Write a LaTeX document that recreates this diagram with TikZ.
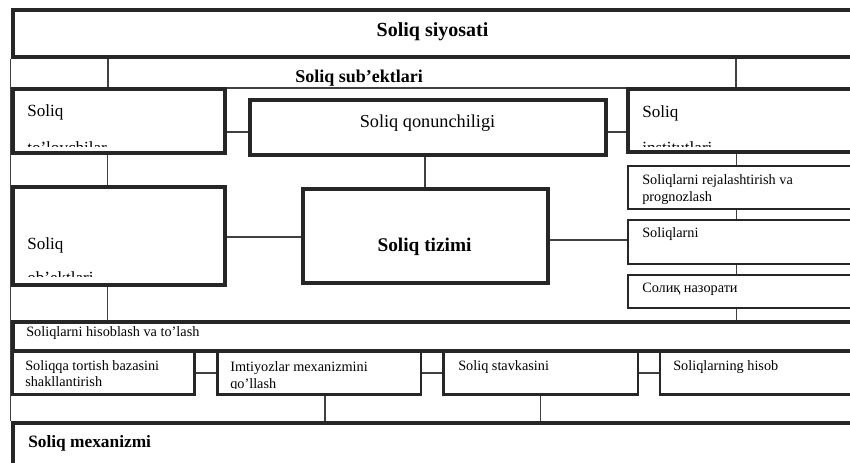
\documentclass[tikz,border=0pt]{standalone}
\usepackage{fontspec}
\setmainfont{Liberation Serif}
\usetikzlibrary{fit,calc,backgrounds}

\begin{document}
\begin{tikzpicture}[x=0.75pt,y=-0.75pt,
		thickbox/.style={draw=black!85,line width=3pt,fill=white,inner sep=0pt},
		midbox/.style={draw=black!85,line width=2pt,fill=white,inner sep=0pt},
		thinbox/.style={draw=black!75,line width=0.8pt,inner sep=0pt},
		link/.style={draw=black!75,line width=0.8pt},
		lbl/.style={inner sep=0pt,anchor=base west,align=left,font=\fontsize{10.7}{12.75}\selectfont},
		bigl/.style={inner sep=0pt,anchor=base west,font=\fontsize{12.8}{15}\selectfont},
		head/.style={inner sep=0pt,font=\bfseries\fontsize{13.5}{16}\selectfont}]
		\useasboundingbox (0,0) rectangle (850,463);
		\clip (0,0) rectangle (850,463);

		% boxes
		\node[thinbox,fit={(108,57.5)(736,88)}] (subj) {};
		\node[thickbox,fit={(12.5,10.5)(880,57.5)}] (pol) {};
		\node[thickbox,fit={(12.5,89.5)(224.5,153)}] (tolov) {};
		\node[thickbox,fit={(249.5,100.5)(605.5,155)}] (qonun) {};
		\node[thickbox,fit={(627.5,89.5)(880,152.5)}] (inst) {};
		\node[thickbox,fit={(12.5,187.5)(224.5,285.5)}] (obyekt) {};
		\node[thickbox,fit={(302.5,189.5)(547.5,283.5)}] (tizim) {};
		\node[midbox,fit={(628,166)(880,209)}] (plan) {};
		\node[midbox,fit={(628,220)(880,264)}] (soliqlar) {};
		\node[midbox,fit={(628,275)(880,308)}] (nazorat) {};
		\node[midbox,fit={(12.5,351)(194.5,394.5)}] (baza) {};
		\node[midbox,fit={(217.5,351)(421,394.5)}] (imtiyoz) {};
		\node[midbox,fit={(443.5,351)(638,394.5)}] (stavka) {};
		\node[midbox,fit={(660,351)(880,394.5)}] (hisobi) {};
		\node[thickbox,fit={(12.5,322)(880,351)}] (hisob) {};
		\node[thickbox,fit={(12.5,422.5)(880,490)}] (mexan) {};

		% connectors
		\begin{scope}[on background layer]
			\draw[link] (pol.south west) -- (mexan.north west);
			\draw[link] (subj.west |- tolov.south) -- (subj.west |- obyekt.north);
			\draw[link] (subj.west |- obyekt.south) -- (subj.west |- hisob.north);
			\draw[link] (tolov.east |- 0,132) -- (qonun.west |- 0,132);
			\draw[link] (qonun.east |- 0,132) -- (inst.west |- 0,132);
			\draw[link] (tizim.north |- qonun.south) -- (tizim.north);
			\draw[link] (obyekt.east |- 0,237) -- (tizim.west |- 0,237);
			\draw[link] (tizim.east |- 0,240) -- (soliqlar.west |- 0,240);
			\foreach \a/\b in {inst/plan,plan/soliqlar,soliqlar/nazorat,nazorat/hisob}
				\draw[link] (subj.east |- \a.south) -- (subj.east |- \b.north);
			\foreach \a/\b in {baza/imtiyoz,imtiyoz/stavka,stavka/hisobi}
				\draw[link] (\a.east |- 0,373) -- (\b.west |- 0,373);
			\draw[link] (imtiyoz.south -| 325,0) -- (mexan.north -| 325,0);
			\draw[link] (stavka.south) -- (stavka.south |- mexan.north);
		\end{scope}

		% texts
		\node[head,anchor=base,font=\bfseries\fontsize{15}{17}\selectfont] (tpol) at (432.5,37) {Soliq siyosati};
		\node[head,anchor=base west] (tsubj) at (295,83) {Soliq sub’ektlari};
		\node[bigl] (ttolov) at (27,117) {Soliq};
		\begin{scope}
			\clip (15,92) rectangle (222,147);
			\node[bigl] (ttolov2) at (27,154) {to’lovchilar};
		\end{scope}
		\node[bigl,anchor=base,font=\fontsize{13.7}{16}\selectfont] (tqonun) at (427.5,128) {Soliq qonunchiligi};
		\node[bigl] (tinst) at (642,118) {Soliq};
		\begin{scope}
			\clip (630,92) rectangle (850,147);
			\node[bigl] (tinst2) at (642,154) {institutlari};
		\end{scope}
		\node[bigl] (tobyekt) at (27,250) {Soliq};
		\begin{scope}
			\clip (15,190) rectangle (222,277);
			\node[bigl] (tobyekt2) at (27,284) {ob’ektlari};
		\end{scope}
		\node[head,anchor=base,font=\bfseries\fontsize{14.5}{17}\selectfont] (ttizim) at (424.5,252) {Soliq tizimi};
		\begin{scope}
			\clip (630,168) rectangle (850,205);
			\node[lbl] (tplan) at (642,202) {Soliqlarni rejalashtirish va\\prognozlash};
		\end{scope}
		\node[lbl] (tsoliqlar) at (642,238) {Soliqlarni};
		\node[lbl] (tnazorat) at (642,293) {Солиқ назорати};
		\node[lbl] (thisob) at (26,337) {Soliqlarni hisoblash va to’lash};
		\node[lbl] (tbaza) at (25,387) {Soliqqa tortish bazasini\\shakllantirish};
		\begin{scope}
			\clip (220,353) rectangle (419,389);
			\node[lbl] (timtiyoz) at (230,388) {Imtiyozlar mexanizmini\\qo’llash};
		\end{scope}
		\node[lbl] (tstavka) at (458,370) {Soliq stavkasini};
		\node[lbl] (thisobi) at (673,370) {Soliqlarning hisob};
		\node[head,anchor=base west,font=\bfseries\fontsize{13}{15}\selectfont] (tmexan) at (28,447) {Soliq mexanizmi};
	\end{tikzpicture}
\end{document}
